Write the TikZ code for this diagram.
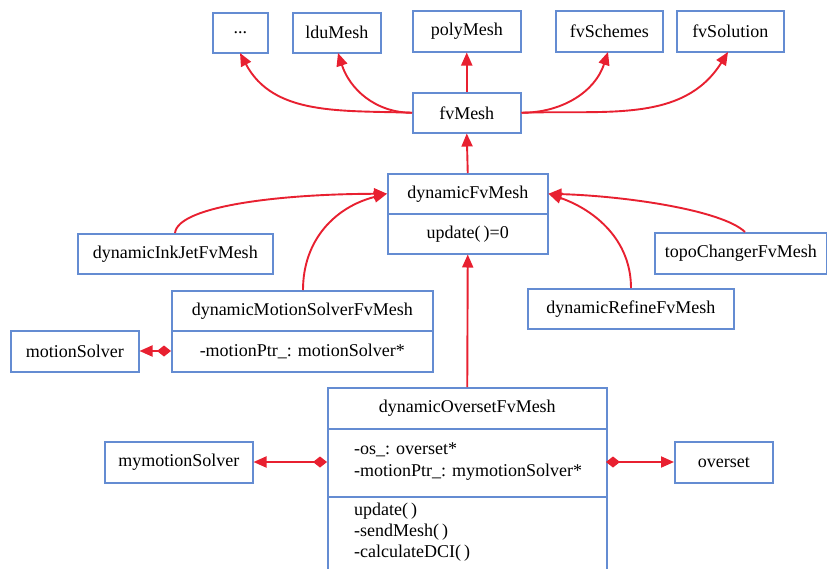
\documentclass[tikz,border=0pt]{standalone}
\usepackage{fontspec}
\setmainfont{Liberation Serif}
\usetikzlibrary{arrows.meta}
\definecolor{boxblue}{RGB}{100,140,210}
\definecolor{arrred}{RGB}{232,32,48}
\begin{document}
\begin{tikzpicture}[x=1pt,y=-1pt,
  box/.style={draw=boxblue,line width=1.5pt,fill=white,inner sep=0pt,anchor=north west,
    font=\fontsize{18}{21}\selectfont},
  txt/.style={inner sep=0pt,anchor=west,font=\fontsize{18}{21}\selectfont},
  inh/.style={draw=arrred,line width=1.9pt,-{Triangle[length=13pt,width=11pt]}},
  comp/.style={draw=arrred,line width=1.9pt,{Diamond[length=14pt,width=11pt]}-{Triangle[length=13pt,width=11pt]}}]
\useasboundingbox (0,0) rectangle (827,568);
\fill[white] (0,0) rectangle (827,568);
% top row
\node[box,minimum width=55pt,minimum height=40pt] (dots) at (212,12) {...};
\node[box,minimum width=88pt,minimum height=40pt] (ldu) at (292,12) {lduMesh};
\node[box,minimum width=108pt,minimum height=41pt] (poly) at (412,10) {polyMesh};
\node[box,minimum width=107pt,minimum height=41pt] (sch) at (555,10) {fvSchemes};
\node[box,minimum width=107pt,minimum height=41pt] (sol) at (676,10) {fvSolution};
% fvMesh
\node[box,minimum width=108pt,minimum height=40pt] (fv) at (412,92) {fvMesh};
% dynamicFvMesh
\node[box,minimum width=160pt,minimum height=40pt] (dfm) at (387,173) {dynamicFvMesh};
\node[box,minimum width=160pt,minimum height=40pt] (dfmu) at (387,213) {update(\,)=0};
% side classes
\node[box,minimum width=195pt,minimum height=40pt] (ink) at (77,233) {dynamicInkJetFvMesh};
\node[box,minimum width=172pt,minimum height=41pt] (topo) at (654,232) {topoChangerFvMesh};
\node[box,minimum width=261pt,minimum height=40pt] (dms) at (171,290) {dynamicMotionSolverFvMesh};
\node[box,minimum width=261pt,minimum height=41pt] (dmsa) at (171,330) {-motionPtr\_: motionSolver*};
\node[box,minimum width=206pt,minimum height=40pt] (ref) at (527,288) {dynamicRefineFvMesh};
\node[box,minimum width=128pt,minimum height=41pt] (ms) at (10,330) {motionSolver};
% dynamicOversetFvMesh
\node[box,minimum width=279pt,minimum height=41pt] (dos) at (327,387) {dynamicOversetFvMesh};
\node[box,minimum width=279pt,minimum height=68pt] (dosa) at (327,428) {};
\node[box,minimum width=279pt,minimum height=80pt] (dosm) at (327,496) {};
\node[txt] (a1) at (354,450) {-os\_: overset*};
\node[txt] (a2) at (354,472) {-motionPtr\_: mymotionSolver*};
\node[txt] (m1) at (354,511) {update(\,)};
\node[txt] (m2) at (354,532) {-sendMesh(\,)};
\node[txt] (m3) at (354,553) {-calculateDCI(\,)};
\node[box,minimum width=148pt,minimum height=41pt] (mms) at (104,441) {mymotionSolver};
\node[box,minimum width=98pt,minimum height=41pt] (ov) at (674,441) {overset};
% connectors: fvMesh to top row
\coordinate (dotsT) at (240,53);
\coordinate (lduT) at (338,53);
\coordinate (schT) at (608,52);
\coordinate (solT) at (728,52);
\draw[inh] (fv.west) to[out=178,in=-62] (dotsT);
\draw[inh] (fv.west) to[out=180,in=-72] (lduT);
\draw[inh] (fv.north) -- (poly.south);
\draw[inh] (fv.east) to[out=0,in=-108] (schT);
\draw[inh] (fv.east) to[out=2,in=-122] (solT);
% dynamicFvMesh to fvMesh
\draw[inh] (dfm.north) -- (fv.south);
% subclasses
\coordinate (inkT) at (175,233);
\coordinate (dmsT) at (303,290);
\coordinate (topoT) at (745,232);
\coordinate (refT) at (631,288);
\draw[inh] (inkT) .. controls (178,206) and (280,194) .. (dfm.west);
\draw[inh] (dmsT) .. controls (303,240) and (335,207) .. (dfm.west);
\draw[inh] (topoT) .. controls (722,210) and (625,196) .. (dfm.east);
\draw[inh] (refT) .. controls (631,240) and (595,210) .. (dfm.east);
\draw[inh] (dos.north) -- (dfmu.south);
% compositions
\coordinate (dmsaL) at (171,351);
\draw[comp] (dmsaL) -- (dmsaL -| ms.east);
\coordinate (dosaL) at (327,462);
\coordinate (dosaR) at (606,462);
\draw[comp] (dosaL) -- (dosaL -| mms.east);
\draw[comp] (dosaR) -- (dosaR -| ov.west);
\end{tikzpicture}
\end{document}
